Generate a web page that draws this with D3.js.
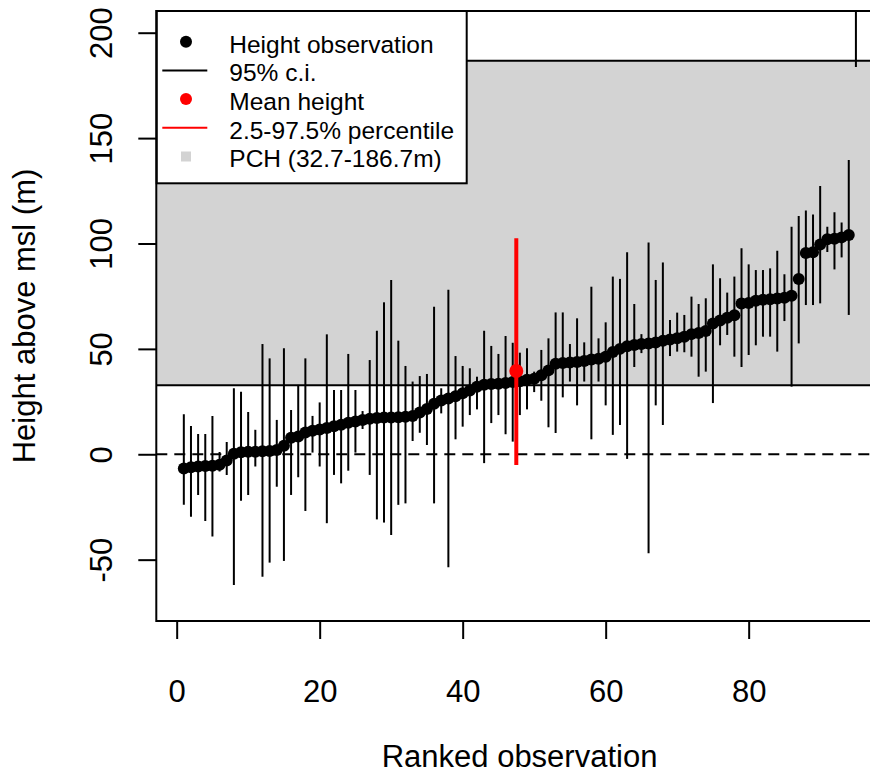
<!DOCTYPE html>
<html>
<head>
<meta charset="utf-8">
<script src="https://d3js.org/d3.v7.min.js"></script>
<style>
  body { margin: 0; background: #fff; }
  text { font-family: "Liberation Sans", Arial, Helvetica, sans-serif; fill: #000; }
</style>
</head>
<body>
<svg width="870" height="776"></svg>
<script>
// ranked height observations (m) with their 95% c.i.
var heights = [-6.8,-6.2,-5.8,-5.6,-5.5,-5.0,-3.0,0.3,1.0,1.2,
    1.2,1.4,1.5,2.0,4.0,7.8,8.4,10.3,11.2,11.8,
    12.5,13.3,14.0,15.0,15.6,16.3,16.8,17.2,17.4,17.5,
    17.6,17.8,18.2,19.8,21.5,24.0,25.5,26.5,27.5,29.0,
    30.3,32.0,33.0,33.3,33.5,33.8,34.3,34.6,35.3,35.8,
    37.5,39.8,43.0,43.3,43.5,43.8,44.2,45.0,45.3,46.3,
    48.5,50.0,51.3,51.8,52.3,52.6,53.0,53.8,54.5,55.0,
    55.8,57.0,57.5,58.5,62.0,63.5,64.8,66.0,71.5,71.8,
    72.8,73.3,73.5,73.9,74.3,75.2,83.1,95.5,95.8,99.5,
    102.0,102.3,102.9,104.0,240];

var ciLower = [-24.0,-29.6,-19.3,-31.6,-39.0,-8.2,-9.8,-62.0,-22.1,-19.3,
    -5.8,-58.1,-51.4,-15.4,-50.6,-19.3,-10.9,-26.9,0.8,-5.8,
    -32.7,-9.8,-13.8,-7.8,0.8,12.0,-9.8,-30.9,-32.4,-38.3,
    -24.0,-23.3,6.3,10.2,4.4,-23.3,19.4,-53.6,7.1,13.1,
    18.6,21.3,-4.2,14.8,18.6,9.5,6.0,18.6,21.3,29.5,
    25.4,12.8,10.1,27.0,34.5,23.2,34.5,7.1,34.5,23.2,
    9.2,13.9,-2.2,41.4,48.0,-47.0,23.2,13.9,46.6,48.7,
    48.4,46.3,36.8,39.2,24.3,51.7,56.6,46.3,41.4,47.1,
    51.7,55.8,55.8,48.7,63.2,32.1,52.6,70.8,70.8,71.6,
    96.0,87.7,93.4,66.1,183.7];

var ciUpper = [19.0,13.4,9.6,9.6,18.2,1.1,5.8,31.3,29.7,20.1,
    11.6,52.3,45.5,16.3,50.3,21.0,32.9,45.5,18.2,24.6,
    56.9,30.5,30.5,47.6,30.5,20.5,44.7,58.6,72.1,82.7,
    53.9,41.9,34.5,37.1,38.1,70.0,31.3,78.0,46.6,41.9,
    40.8,36.8,58.6,51.4,47.6,56.1,52.9,48.2,50.3,39.2,
    49.5,55.0,67.3,67.3,52.3,64.5,53.1,79.5,55.0,62.6,
    84.3,83.2,95.8,71.3,57.0,100.5,82.7,91.0,63.7,67.2,
    66.1,74.8,71.3,74.0,90.1,83.5,76.7,84.3,97.7,90.1,
    87.4,87.4,88.2,96.6,85.4,108.0,113.0,115.6,113.8,127.3,
    108.0,114.8,110.0,139.6,300];

var ranks = d3.range(1, heights.length + 1);

// mean height and its 2.5-97.5% percentile
var meanRank = 47.5,
    meanHeight = 39.5,
    pctLow = -5.1,
    pctHigh = 102.5;

// PCH band
var pchLow = 32.7,
    pchHigh = 186.7;

var xTicks = [0, 20, 40, 60, 80],
    yTicks = [-50, 0, 50, 100, 150, 200];

var legendLabels = ["Height observation", "95% c.i.", "Mean height",
    "2.5-97.5% percentile", "PCH (32.7-186.7m)"];

var svg = d3.select("svg");

var pLeft = 156.3, pRight = 882.8, pTop = 11, pBottom = 621;

//    Set Ranges
var x = d3.scaleLinear().domain([-2.85, 98.76]).range([pLeft, pRight]),
    y = d3.scaleLinear().domain([-79.1, 210.3]).range([pBottom, pTop]);

svg.append("defs").append("clipPath")
   .attr("id", "plotclip")
   .append("rect")
   .attr("x", pLeft).attr("y", pTop)
   .attr("width", pRight - pLeft).attr("height", pBottom - pTop);

var g = svg.append("g").attr("clip-path", "url(#plotclip)");

// PCH band
g.append("rect")
 .attr("x", pLeft)
 .attr("y", y(pchHigh))
 .attr("width", pRight - pLeft)
 .attr("height", y(pchLow) - y(pchHigh))
 .attr("fill", "#d3d3d3");

g.selectAll(".pchline")
 .data([pchLow, pchHigh])
 .enter().append("line")
 .attr("x1", pLeft).attr("x2", pRight)
 .attr("y1", function(d) { return y(d); })
 .attr("y2", function(d) { return y(d); })
 .attr("stroke", "#000")
 .attr("stroke-width", 2);

// zero line
g.append("line")
 .attr("x1", pLeft).attr("x2", pRight)
 .attr("y1", y(0)).attr("y2", y(0))
 .attr("stroke", "#000")
 .attr("stroke-width", 2)
 .attr("stroke-dasharray", "11,7");

// confidence intervals
g.selectAll(".ci")
 .data(ranks)
 .enter().append("line")
 .attr("class", "ci")
 .attr("x1", function(d) { return x(d); })
 .attr("x2", function(d) { return x(d); })
 .attr("y1", function(d, i) { return y(ciLower[i]); })
 .attr("y2", function(d, i) { return y(ciUpper[i]); })
 .attr("stroke", "#000")
 .attr("stroke-width", 2);

// observations
g.selectAll(".obs")
 .data(ranks)
 .enter().append("circle")
 .attr("class", "obs")
 .attr("cx", function(d) { return x(d); })
 .attr("cy", function(d, i) { return y(heights[i]); })
 .attr("r", 6)
 .attr("fill", "#000");

// mean height
g.append("line")
 .attr("x1", x(meanRank)).attr("x2", x(meanRank))
 .attr("y1", y(pctLow)).attr("y2", y(pctHigh))
 .attr("stroke", "#ff0000")
 .attr("stroke-width", 4);

g.append("circle")
 .attr("cx", x(meanRank))
 .attr("cy", y(meanHeight))
 .attr("r", 7)
 .attr("fill", "#ff0000");

// legend
var lg = svg.append("g");
lg.append("rect")
  .attr("x", 156.7).attr("y", 11)
  .attr("width", 310).attr("height", 172.3)
  .attr("fill", "#fff")
  .attr("stroke", "#000")
  .attr("stroke-width", 2);

var rowY = function(i) { return 41.7 + i * 28.7; };

lg.selectAll(".lgtext")
  .data(legendLabels)
  .enter().append("text")
  .attr("x", 229.3)
  .attr("y", function(d, i) { return rowY(i) + 10.8; })
  .style("font-size", "24.5px")
  .text(function(d) { return d; });

lg.append("circle").attr("cx", 186).attr("cy", rowY(0)).attr("r", 6).attr("fill", "#000");
lg.append("line").attr("x1", 162.3).attr("x2", 207.3)
  .attr("y1", rowY(1)).attr("y2", rowY(1))
  .attr("stroke", "#000").attr("stroke-width", 2);
lg.append("circle").attr("cx", 186).attr("cy", rowY(2)).attr("r", 6).attr("fill", "#ff0000");
lg.append("line").attr("x1", 162.3).attr("x2", 207.3)
  .attr("y1", rowY(3)).attr("y2", rowY(3))
  .attr("stroke", "#ff0000").attr("stroke-width", 2);
lg.append("rect").attr("x", 181).attr("y", rowY(4) - 5)
  .attr("width", 10).attr("height", 10).attr("fill", "#d3d3d3");

// plot frame
svg.append("rect")
   .attr("x", pLeft).attr("y", pTop)
   .attr("width", pRight - pLeft).attr("height", pBottom - pTop)
   .attr("fill", "none")
   .attr("stroke", "#000")
   .attr("stroke-width", 2);

// Add x axis
var xAxis = svg.append("g")
   .attr("transform", "translate(0," + pBottom + ")")
   .call(d3.axisBottom(x).tickValues(xTicks).tickSize(18).tickPadding(41));
xAxis.select(".domain").remove();
xAxis.selectAll("line").attr("stroke-width", 2);
xAxis.selectAll("text")
     .style("font-size", "31px");

// Add y axis
var yAxis = svg.append("g")
   .attr("transform", "translate(" + pLeft + ",0)")
   .call(d3.axisLeft(y).tickValues(yTicks).tickSize(18));
yAxis.select(".domain").remove();
yAxis.selectAll("line").attr("stroke-width", 2);
yAxis.selectAll("text").remove();
yAxis.selectAll(".tick")
     .append("text")
     .attr("transform", "translate(-44.6,0) rotate(-90)")
     .attr("text-anchor", "middle")
     .attr("fill", "#000")
     .style("font-size", "31px")
     .text(function(d) { return d; });

// axis titles
svg.append("text")
   .attr("x", (pLeft + pRight) / 2)
   .attr("y", 767)
   .attr("text-anchor", "middle")
   .style("font-size", "31px")
   .text("Ranked observation");

svg.append("text")
   .attr("transform", "translate(35," + ((pTop + pBottom) / 2) + ") rotate(-90)")
   .attr("text-anchor", "middle")
   .style("font-size", "31px")
   .text("Height above msl (m)");
</script>
</body>
</html>
